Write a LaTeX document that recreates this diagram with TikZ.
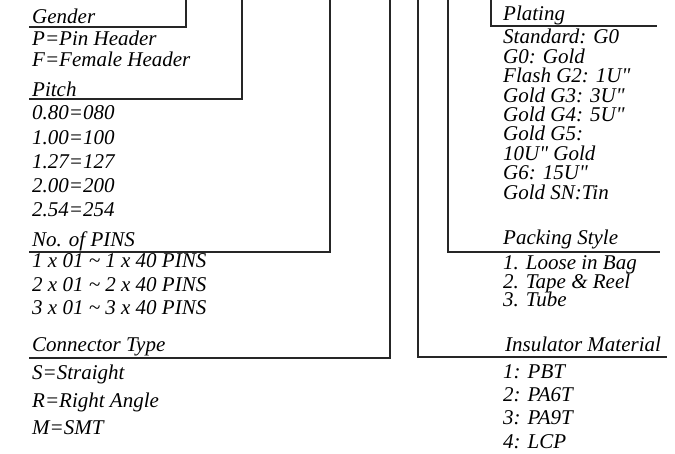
\documentclass[tikz,border=0pt]{standalone}
\usepackage{fontspec}
\setmainfont{Liberation Serif}[Ligatures=TeXOff]

\begin{document}
\begin{tikzpicture}[x=1pt, y=-1pt,
    head/.style={font=\fontsize{21}{24}\selectfont\itshape,
                 anchor=base west, inner sep=0pt},
    val/.style={font={\fontsize{21}{#1}\selectfont\itshape\lineskiplimit-50pt\relax},
                align=left, anchor=base west, inner sep=0pt},
    bar/.style={line width=1.6pt, color=black!85}
  ]
  \useasboundingbox (0,0) rectangle (675,454);

  % left column (values placed by the baseline of their last line)
  \node[head] (gender) at (32,24) {Gender};
  \node[val=20.5] (genderv) at (32,66.5) {P=Pin Header\\F=Female Header};
  \node[head] (pitch) at (32,97) {Pitch};
  \node[val=24.2] (pitchv) at (32,216.8) {0.80=080\\1.00=100\\1.27=127\\2.00=200\\2.54=254};
  \node[head] (pins) at (32,247) {No. of PINS};
  \node[val=23.5] (pinsv) at (32,315) {1 x 01 \textasciitilde{} 1 x 40 PINS\\2 x 01 \textasciitilde{} 2 x 40 PINS\\3 x 01 \textasciitilde{} 3 x 40 PINS};
  \node[head] (ctype) at (32,352) {Connector Type};
  \node[val=27.5] (ctypev) at (32,435) {S=Straight\\R=Right Angle\\M=SMT};

  % right column
  \node[head] (plating) at (503,21) {Plating};
  \node[val=19.4] (platingv) at (503,199.2) {Standard: G0\\G0: Gold\\Flash G2: 1U"\\Gold G3: 3U"\\Gold G4: 5U"\\Gold G5:\\10U" Gold\\G6: 15U"\\Gold SN:Tin};
  \node[head] (packing) at (503,245) {Packing Style};
  \node[val=18.5] (packingv) at (503,307) {1. Loose in Bag\\2. Tape \& Reel\\3. Tube};
  \node[head] (insul) at (505,352) {Insulator Material};
  \node[val=23.3] (insulv) at (503,448) {1: PBT\\2: PA6T\\3: PA9T\\4: LCP};

  % bracket lines
  \coordinate (gendertop) at (186,0);   \coordinate (genderend) at (29,27);
  \coordinate (pitchtop) at (242,0);    \coordinate (pitchend) at (29,99);
  \coordinate (pinstop) at (330,0);     \coordinate (pinsend) at (29,252);
  \coordinate (ctypetop) at (390,0);    \coordinate (ctypeend) at (29,358);
  \coordinate (insultop) at (418,0);    \coordinate (insulend) at (667,357);
  \coordinate (packingtop) at (448,0);  \coordinate (packingend) at (660,252);
  \coordinate (platingtop) at (491,0);  \coordinate (platingend) at (657,26);
  \draw[bar] (gendertop) |- (genderend);
  \draw[bar] (pitchtop) |- (pitchend);
  \draw[bar] (pinstop) |- (pinsend);
  \draw[bar] (ctypetop) |- (ctypeend);
  \draw[bar] (insultop) |- (insulend);
  \draw[bar] (packingtop) |- (packingend);
  \draw[bar] (platingtop) |- (platingend);
\end{tikzpicture}
\end{document}
